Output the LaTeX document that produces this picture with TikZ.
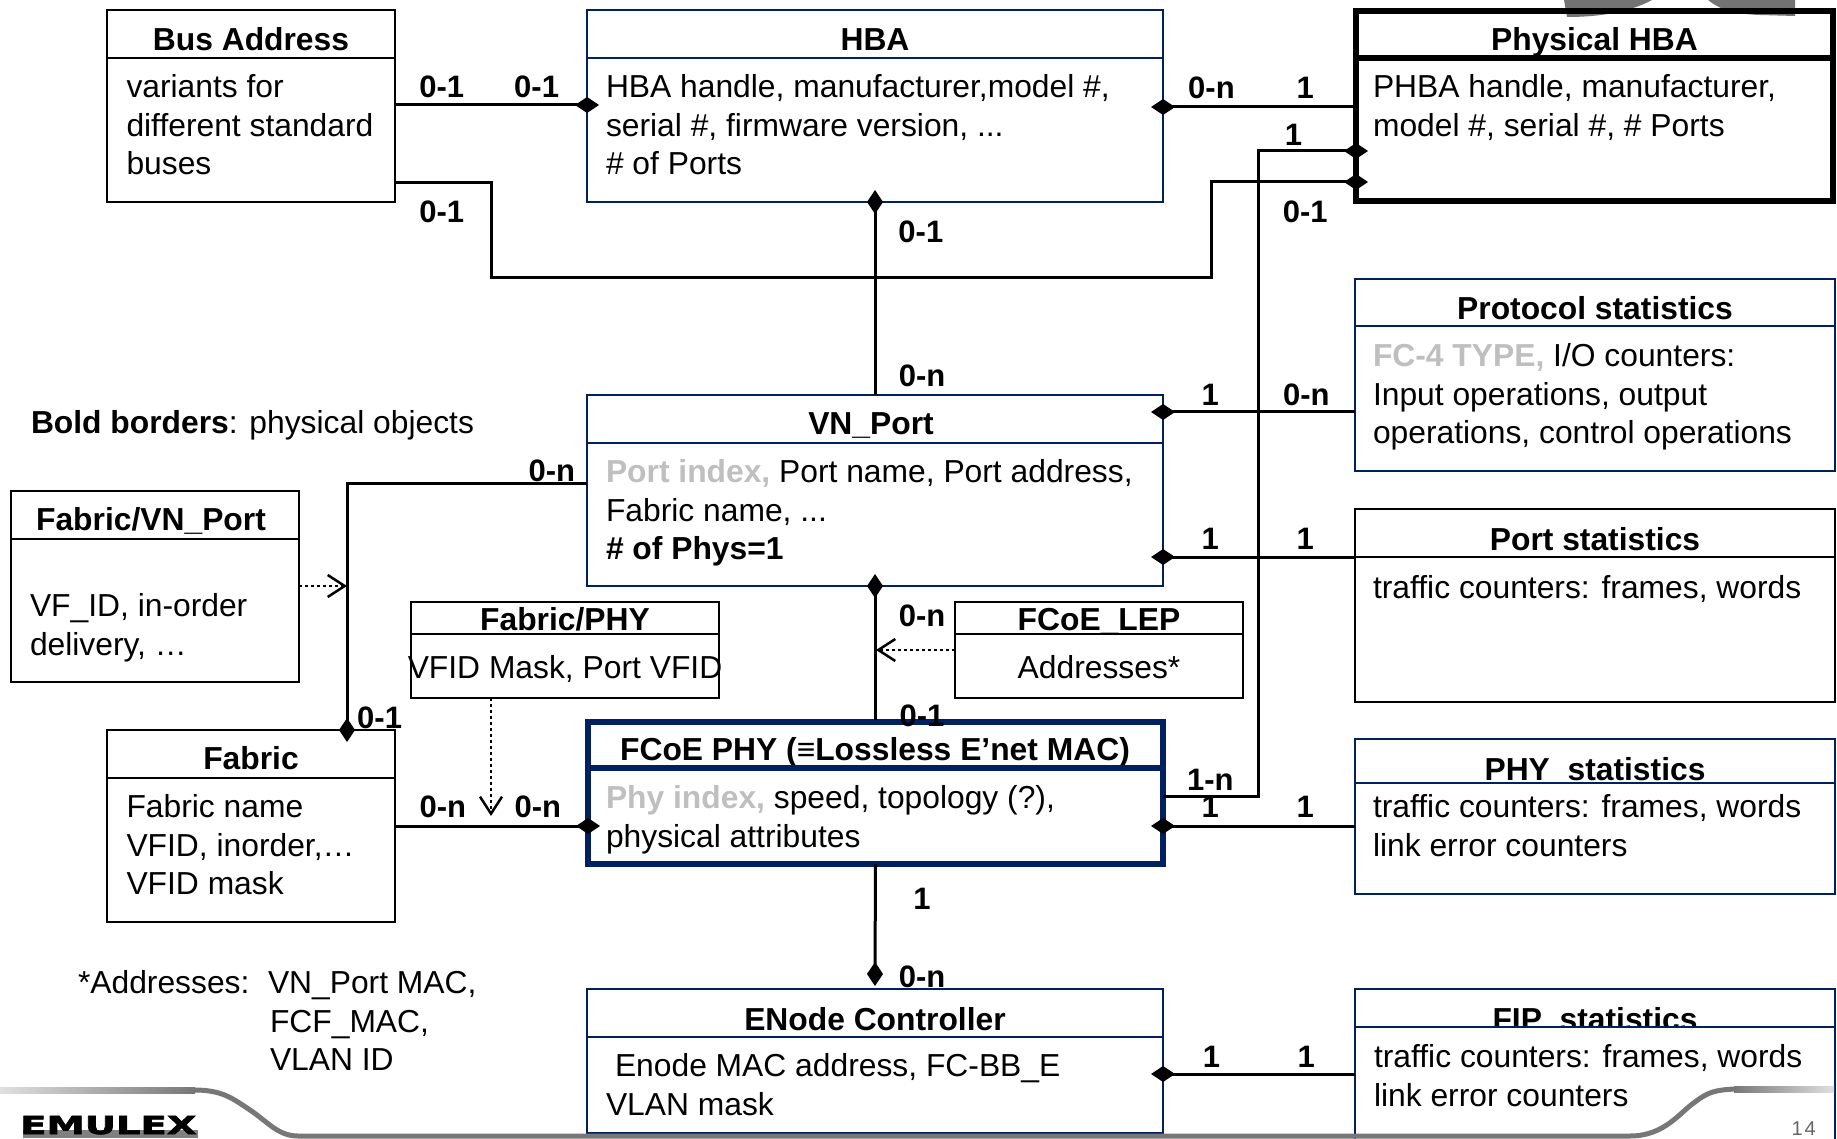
\documentclass[tikz,border=0pt]{standalone}
\usepackage{fontspec}
\usepackage{graphicx}
\setmainfont{Liberation Sans}
\newfontfamily\logofont[UprightFeatures={FakeBold=2},BoldFont={* Bold},BoldFeatures={FakeBold=2}]{DejaVu Sans}
\usetikzlibrary{arrows.meta,calc}
\definecolor{navy}{HTML}{002060}
\definecolor{pale}{HTML}{BFBFBF}
\definecolor{swoosh}{HTML}{777777}
\newcommand{\greyb}[1]{\textbf{\textcolor{pale}{#1}}}
\newcommand{\erbox}[9]{%
  % #1 style  #2 name  #3 x1  #4 y1  #5 x2  #6 yh  #7 y2  #8 title  #9 title x,baseline
  \pgfmathsetmacro{\bw}{#5-#3}
  \pgfmathsetmacro{\hh}{#6-#4}
  \pgfmathsetmacro{\bh}{#7-#6}
  \node[boxpart,#1,anchor=north west,minimum width=\bw pt,minimum height=\hh pt] (#2h) at (#3,#4) {};
  \node[titletext,anchor=base] (#2t) at (#9) {#8};
  \node[boxpart,#1,anchor=north west,minimum width=\bw pt,minimum height=\bh pt] (#2) at (#3,#6) {};
}
\tikzset{
  boxpart/.style={draw=black,fill=white,line width=2.5pt,inner sep=0pt,outer sep=0pt},
  navybox/.style={draw=navy,line width=2.8pt},
  physbox/.style={line width=6pt},
  navythick/.style={draw=navy,line width=6pt},
  titletext/.style={font=\fontsize{31.8}{38.5}\selectfont\bfseries,inner sep=0pt,outer sep=0pt},
  bodytext/.style={font=\fontsize{31.8}{38.5}\selectfont,inner sep=0pt,outer sep=0pt,align=left,anchor=north west},
  centertext/.style={font=\fontsize{31.8}{38.5}\selectfont,inner sep=0pt,outer sep=0pt,anchor=center},
  cardinality/.style={font=\fontsize{31}{38.5}\selectfont\bfseries,inner sep=0pt,outer sep=0pt},
  link/.style={draw=black,line width=3pt},
  dia/.style={-{Diamond[length=24pt,width=16pt]},shorten >=-12pt},
  depend/.style={draw=black,line width=2.5pt,dash pattern=on 3pt off 3pt,-{Straight Barb[length=17pt,width=22pt,line width=2.5pt]}},
  swooshline/.style={draw=swoosh,line width=5pt},
}
\begin{document}
\begin{tikzpicture}[x=1pt,y=-1pt]
\useasboundingbox (0,0) rectangle (1837,1139);
\fill[white] (0,0) rectangle (1837,1139);

% boxes
\erbox{}{bus}{107}{10}{395}{58}{202}{Bus Address}{251,51}
\erbox{navybox}{hba}{587}{10}{1163}{58}{202}{HBA}{875,51}
\erbox{physbox}{phys}{1356}{11}{1833}{58}{201}{Physical HBA}{1594.5,51}
\erbox{navybox}{proto}{1355}{279}{1835}{326}{471}{Protocol statistics}{1595,320}
\erbox{}{portst}{1355}{509}{1835}{557}{702}{Port statistics}{1595,550}
\erbox{navybox}{physt}{1355}{739}{1835}{783}{894}{PHY\_statistics}{1595,780}
\erbox{navybox}{fipst}{1355}{989}{1835}{1027}{1142}{FIP\_statistics}{1595,1030}
\erbox{navybox}{vn}{587}{395}{1163}{443}{586}{VN\_Port}{871,435}
\erbox{}{fvn}{11}{491}{299}{539}{682}{Fabric/VN\_Port}{151,530}
\erbox{}{fphy}{411}{602}{719}{634}{698}{Fabric/PHY}{565,630}
\erbox{}{lep}{955}{602}{1243}{634}{698}{FCoE\_LEP}{1099,630}
\erbox{navythick}{phy}{588}{722}{1163}{768}{864}{FCoE PHY (≡Lossless E’net MAC)}{875,760}
\erbox{}{fabric}{107}{730}{395}{778}{922}{Fabric}{251,769}
\erbox{navybox}{enode}{587}{989}{1163}{1037}{1133}{ENode Controller}{875,1030}

% top-edge fragments of the slide artwork
\fill[black!55] (1564,0) -- (1652,0) .. controls (1630,12) and (1600,17) .. (1567,17) -- cycle;
\fill[black!55] (1708,0) .. controls (1720,10) and (1735,14) .. (1760,15) -- (1795,16) -- (1795,0) -- cycle;
\draw[line width=6pt] (physh.north west) -- (physh.north east);

% bottom swoosh
\shade[left color=black!12,right color=swoosh] (0,1087) rectangle (195,1093);
\draw[swooshline] (194,1090) .. controls (222,1090) and (232,1098) .. (250,1110) .. controls (268,1122) and (278,1136) .. (298,1136) -- (1630,1136) .. controls (1665,1136) and (1680,1112) .. (1695,1102) .. controls (1708,1092) and (1715,1090) .. (1735,1089);
\shade[left color=swoosh,right color=black!12] (1734,1086) rectangle (1834,1092);

% connectors
\draw[link,dia] (bus.east|-0,105) -- (hba.west|-0,105);
\draw[link,dia] (phys.west|-0,107) -- (hba.east|-0,107);
\draw[link,dia] (bus.east|-0,183) -- (491,183) -- (491,278) -- (1211,278) -- (1211,182) -- (phys.west|-0,182);
\draw[link,dia] (875,395) -- (hba.south);
\draw[link,dia] (phy.east|-0,796) -- (1258,796) -- (1258,151) -- (phys.west|-0,151);
\draw[link,dia] (proto.west|-0,412) -- (vn.east|-0,412);
\draw[link,dia] (portst.west|-0,557) -- (vn.east|-0,557);
\draw[link,dia] (vn.west|-0,483) -- (347,483) -- (347,730);
\draw[link,dia] (fabric.east|-0,826) -- (phy.west|-0,826);
\draw[link,dia] (875,720) -- (vn.south);
\draw[link,dia] (physt.west|-0,826) -- (phy.east|-0,826);
\draw[link,dia] (phy.south) -- (875,974);
\draw[link,dia] (fipst.west|-0,1074) -- (enode.east|-0,1074);
\draw[depend] (fvn.east|-0,586) -- (347,586);
\draw[depend] (fphy.south-|491,0) -- (491,816);
\draw[depend] (lep.west|-0,650) -- (876,650);

% body texts
\node[bodytext] (busb) at (126.5,71) {\strut variants for\\different standard\\buses};
\node[bodytext] (hbab) at (606,71) {\strut HBA handle, manufacturer,model \#,\\serial \#, firmware version, ...\\\# of Ports};
\node[bodytext] (physb) at (1373,71) {\strut PHBA handle, manufacturer,\\model \#, serial \#, \# Ports};
\node[bodytext] (protob) at (1373,340) {\strut\greyb{FC-4 TYPE,} I/O counters:\\Input operations, output\\operations, control operations};
\node[bodytext] (portb) at (1373,572) {\strut traffic counters: frames, words};
\node[bodytext] (physb2) at (1373,791) {\strut traffic counters: frames, words\\link error counters};
\node[bodytext] (fipb) at (1374,1041) {\strut traffic counters: frames, words\\link error counters};
\node[bodytext] (vnb) at (606,456) {\strut\greyb{Port index,} Port name, Port address,\\Fabric name, ...\\\textbf{\# of Phys=1}};
\node[bodytext] (fvnb) at (30,590) {\strut VF\_ID, in-order\\delivery, …};
\node[bodytext] (fabb) at (126.5,791) {\strut Fabric name\\VFID, inorder,…\\VFID mask};
\node[bodytext] (phyb) at (606,782) {\strut\greyb{Phy index,} speed, topology (?),\\physical attributes};
\node[bodytext] (enb) at (606,1050) {\strut\hspace{9pt}Enode MAC address, FC-BB\_E\\VLAN mask};
\node[centertext] (fphyb) at (565,669) {VFID Mask, Port VFID};
\node[centertext] (lepb) at (1099,667) {Addresses*};
\node[bodytext] (legend) at (31,407) {\strut\textbf{Bold borders}: physical objects};
\node[bodytext] (addr1) at (78,967) {\strut *Addresses:};
\node[bodytext] (addr2) at (268,967) {\strut VN\_Port MAC,\\\hspace{2pt}FCF\_MAC,\\\hspace{2pt}VLAN ID};

% cardinalities
\foreach \x/\y/\t [count=\i] in {
 377/74/0-1,458/74/0-1,1034/75/0-n,1114/75/1,1104/115/1,377/181/0-1,786/198/0-1,1114/181/0-1,
 787/321/0-n,1033/337/1,1115/337/0-n,471/402/0-n,1033/460/1,1114/460/1,787/526/0-n,324/613/0-1,
 787/611/0-1,378/689/0-n,459/689/0-n,1033/666/1-n,1033/689/1,1114/689/1,787/767/1,787/834/0-n,
 1034/902/1,1115/902/1}
  \node[cardinality] (card\i) at ({\x*1.1716},{\y*1.1716}) {\t};

% logo and page number
\fill[black!50] (23,1130) rectangle (198,1138);
\node[inner sep=0pt,anchor=base west,font=\logofont\fontsize{25}{25}\selectfont\bfseries] (logo) at (20,1134) {\scalebox{1.54}[1]{EMULEX}};
\node[inner sep=0pt,anchor=base east,text=black!60,font=\fontsize{20}{24}\selectfont] (pageno) at (1816,1135) {1\hspace{2pt}4};
\end{tikzpicture}
\end{document}
